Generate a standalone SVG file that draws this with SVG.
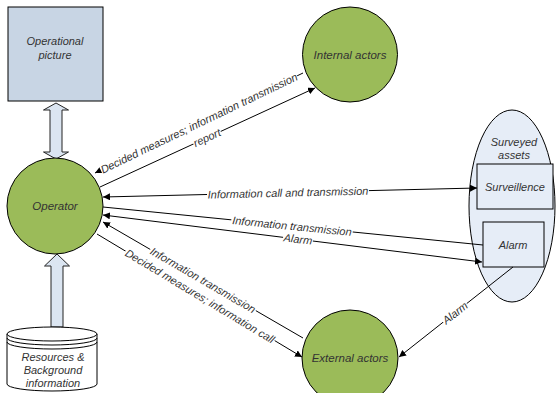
<svg xmlns="http://www.w3.org/2000/svg" width="556" height="393" viewBox="0 0 556 393">
<style>
.t{font-family:"Liberation Sans",Arial,sans-serif;font-style:italic;font-size:11px;fill:#333;text-anchor:middle}
.n{font-size:11.5px}
.ln{stroke:#000;stroke-width:1;fill:none}
.bg{fill:#fff}
.circ{fill:#9bbb59;stroke:#000;stroke-width:1}
.box{fill:#e6edf7;stroke:#000;stroke-width:1}
.blk{fill:#dbe5f1;stroke:#222;stroke-width:1}
</style>
<defs>
<marker id="ah" viewBox="0 0 10 10" refX="10" refY="5" markerWidth="7" markerHeight="7" markerUnits="userSpaceOnUse" orient="auto-start-reverse">
<path d="M0,0 L10,5 L0,10 Z" fill="#000"/>
</marker>
</defs>
<rect width="556" height="393" fill="#fff"/>

<g id="operational-picture">
<rect x="8" y="7" width="95" height="94" fill="#c8d5e4" stroke="#000"/>
<text class="t" x="55" y="45">Operational</text>
<text class="t" x="55" y="59">picture</text>
</g>

<g id="arrow-picture-operator">
<path class="blk" d="M56,103 L68.5,110 L62,110 L62,152 L68.5,152 L56,159 L43.5,152 L50,152 L50,110 L43.5,110 Z"/>
</g>

<g id="arrow-resources-operator">
<path class="blk" d="M57,254 L69.5,266 L63,266 L63,327 L51,327 L51,266 L44.5,266 Z"/>
</g>

<g id="operator">
<circle class="circ" cx="55" cy="206" r="48"/>
<text class="t n" x="55" y="210">Operator</text>
</g>

<g id="internal-actors">
<circle class="circ" cx="350" cy="54.5" r="47.5"/>
<text class="t n" x="350" y="58.5">Internal actors</text>
</g>

<g id="external-actors">
<circle class="circ" cx="350" cy="358" r="48"/>
<text class="t n" x="350" y="362">External actors</text>
</g>

<g id="surveyed-assets">
<ellipse class="box" cx="512" cy="206" rx="43" ry="96"/>
<text class="t" x="514" y="146">Surveyed</text>
<text class="t" x="514" y="159">assets</text>
</g>

<g id="surveillence">
<rect class="box" x="477" y="164" width="76" height="45"/>
<text class="t" x="515" y="191">Surveillence</text>
</g>

<g id="alarm">
<rect class="box" x="483" y="222" width="61" height="45"/>
<text class="t" x="513" y="249">Alarm</text>
</g>

<g id="resources">
<path d="M7,334 L7,384 A45,7 0 0 0 97,384 L97,334" fill="#fff" stroke="#000"/>
<ellipse cx="52" cy="334" rx="45" ry="7" fill="#fff" stroke="#000"/>
<path class="ln" d="M7,338 A45,7 0 0 0 97,338 M7,342 A45,7 0 0 0 97,342"/>
<text class="t" x="53" y="361">Resources &amp;</text>
<text class="t" x="53" y="374">Background</text>
<text class="t" x="53" y="387">information</text>
</g>

<g id="connectors">
<path class="ln" d="M303,73 L95,173" marker-end="url(#ah)"/>
<path class="ln" d="M100,187 L315,88" marker-end="url(#ah)"/>
<path class="ln" d="M103,197 L477,188" marker-start="url(#ah)" marker-end="url(#ah)"/>
<path class="ln" d="M103,207 L483,245"/>
<path class="ln" d="M482,262 L103,215" marker-start="url(#ah)" marker-end="url(#ah)"/>
<path class="ln" d="M303,338 L103,222" marker-end="url(#ah)"/>
<path class="ln" d="M97,234 L302,357" marker-end="url(#ah)"/>
<path class="ln" d="M513,267 L399,357" marker-end="url(#ah)"/>

<g transform="translate(199,123) rotate(-25.7)">
<rect class="bg" x="-109" y="-5.5" width="218" height="11"/>
<text class="t" x="0" y="4">Decided measures; information transmission</text>
</g>
<g transform="translate(207,137.5) rotate(-24.7)">
<rect class="bg" x="-15" y="-5.5" width="30" height="11"/>
<text class="t" x="0" y="4">report</text>
</g>
<g transform="translate(288,192.6) rotate(-1.4)">
<rect class="bg" x="-81" y="-5.5" width="162" height="11"/>
<text class="t" x="0" y="4">Information call and transmission</text>
</g>
<g transform="translate(292,226) rotate(5.7)">
<rect class="bg" x="-61" y="-5.5" width="122" height="11"/>
<text class="t" x="0" y="4">Information transmission</text>
</g>
<g transform="translate(298,239) rotate(7.1)">
<rect class="bg" x="-15" y="-5.5" width="30" height="11"/>
<text class="t" x="0" y="4">Alarm</text>
</g>
<g transform="translate(203,280) rotate(30.1)">
<rect class="bg" x="-61" y="-5.5" width="122" height="11"/>
<text class="t" x="0" y="4">Information transmission</text>
</g>
<g transform="translate(200,296) rotate(31)">
<rect class="bg" x="-87" y="-5.5" width="174" height="11"/>
<text class="t" x="0" y="4">Decided measures; information call</text>
</g>
<g transform="translate(455,312.8) rotate(-38.3)">
<rect class="bg" x="-15" y="-5.5" width="30" height="11"/>
<text class="t" x="0" y="4">Alarm</text>
</g>
</g>
</svg>
